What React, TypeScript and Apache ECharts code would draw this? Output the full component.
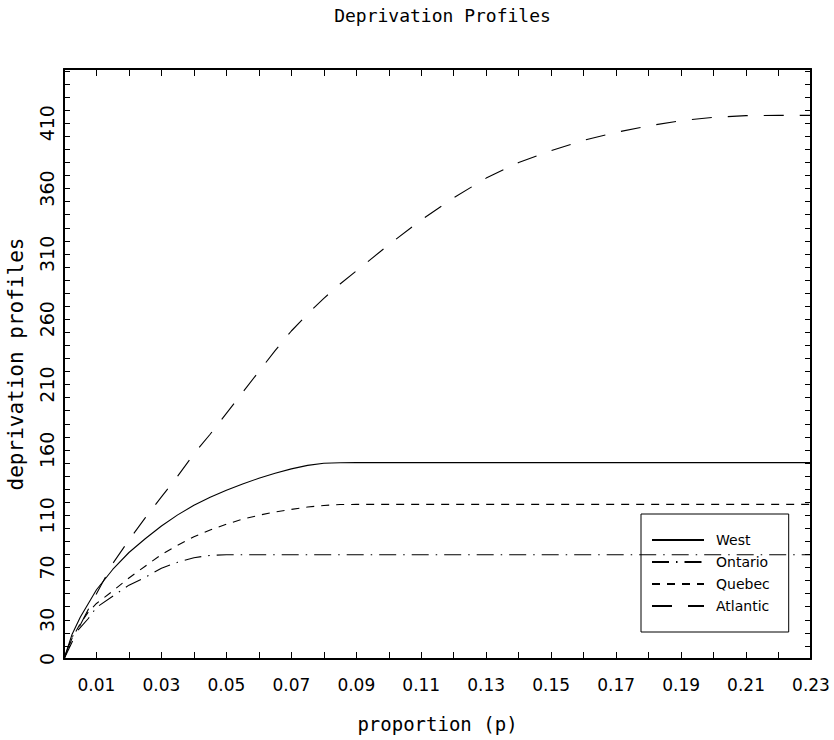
import React, { useEffect, useRef } from 'react';
import * as echarts from 'echarts';

// proportion grid (x values)
const proportions = [
  0, 0.0025, 0.005, 0.0075, 0.01, 0.015, 0.02, 0.025, 0.03, 0.035, 0.04, 0.045,
  0.05, 0.055, 0.06, 0.065, 0.07, 0.075, 0.08, 0.085, 0.09, 0.1, 0.11, 0.12,
  0.13, 0.14, 0.15, 0.16, 0.17, 0.18, 0.19, 0.2, 0.21, 0.22, 0.23,
];

const westValues = [
  0, 19, 32, 42.5, 53, 68.5, 81.5, 92, 101.8, 110.3, 117.6, 123.8,
  129.2, 134, 138.3, 142.2, 145.5, 148.2, 149.8, 150.2, 150.3, 150.3, 150.3, 150.3,
  150.3, 150.3, 150.3, 150.3, 150.3, 150.3, 150.3, 150.3, 150.3, 150.3, 150.3,
];

const ontarioValues = [
  0, 17, 24, 31, 39.5, 48, 56.5, 62.5, 69.5, 74, 77.5, 79.3,
  79.8, 79.8, 79.8, 79.8, 79.8, 79.8, 79.8, 79.8, 79.8, 79.8, 79.8, 79.8,
  79.8, 79.8, 79.8, 79.8, 79.8, 79.8, 79.8, 79.8, 79.8, 79.8, 79.8,
];

const quebecValues = [
  0, 16, 27, 36, 42.5, 52, 62, 71, 80, 87, 93.5, 98.7,
  103.2, 107, 110, 112.5, 114.5, 116.3, 117.5, 118.2, 118.3, 118.3, 118.3, 118.3,
  118.3, 118.3, 118.3, 118.3, 118.3, 118.3, 118.3, 118.3, 118.3, 118.3, 118.3,
];

const atlanticValues = [
  0, 13, 26, 38, 50, 73, 91, 108, 124, 140, 157, 172,
  188, 204, 220, 236, 251, 264, 276, 287, 297, 317, 336, 353,
  368, 380, 389, 397, 403, 408, 412, 414.5, 415.8, 416, 416,
];

const seriesNames = ['West', 'Ontario', 'Quebec', 'Atlantic'];
const seriesValues = [westValues, ontarioValues, quebecValues, atlanticValues];
const seriesDash: (string | number[])[] = ['solid', [17, 7, 1.5, 7], [8, 7], [20, 16]];

const yTickLabels = [0, 30, 70, 110, 160, 210, 260, 310, 360, 410];
const xTickLabels = ['0.01', '0.03', '0.05', '0.07', '0.09', '0.11', '0.13', '0.15', '0.17', '0.19', '0.21', '0.23'];

const SANS = 'DejaVu Sans';
const MONO = 'DejaVu Sans Mono';

export default function App() {
  const ref = useRef<HTMLDivElement>(null);

  useEffect(() => {
    if (!ref.current) return;
    const chart = echarts.init(ref.current, undefined, { renderer: 'svg' });

    const frameLine = { show: true, onZero: false, lineStyle: { color: '#000', width: 2 } };

    const option: any = {
      animation: false,
      backgroundColor: '#fff',
      title: {
        text: 'Deprivation Profiles',
        left: 437.5,
        top: 1,
        textAlign: 'center',
        textStyle: { fontFamily: MONO, fontSize: 18, fontWeight: 'normal', color: '#000' },
      },
      grid: { left: 64, right: 23, top: 69, bottom: 81, containLabel: false, outerBoundsMode: 'none' },
      legend: {
        orient: 'vertical',
        left: 641,
        top: 514,
        data: seriesNames,
        itemWidth: 52,
        itemHeight: 14,
        itemGap: 8,
        padding: [19, 19, 19, 10],
        borderColor: '#000',
        borderWidth: 1,
        itemStyle: { opacity: 0 },
        textStyle: { fontFamily: SANS, fontSize: 14, color: '#000', padding: [0, 0, 0, 7] },
      },
      xAxis: [
        {
          type: 'value',
          position: 'bottom',
          min: 0,
          max: 0.23,
          interval: 0.01,
          axisLine: frameLine,
          axisTick: { show: true, inside: true, length: 7, lineStyle: { color: '#000', width: 1 } },
          axisLabel: {
            show: true,
            margin: 17,
            fontFamily: SANS,
            fontSize: 17,
            color: '#000',
            formatter: (v: number) => {
              const s = (Math.round(v * 100) / 100).toFixed(2);
              return xTickLabels.indexOf(s) >= 0 ? s : '';
            },
          },
          splitLine: { show: false },
          name: 'proportion (p)',
          nameLocation: 'middle',
          nameGap: 55,
          nameTextStyle: { fontFamily: MONO, fontSize: 19, color: '#000' },
        },
        {
          type: 'value',
          position: 'top',
          min: 0,
          max: 0.23,
          interval: 0.01,
          axisLine: frameLine,
          axisTick: { show: true, inside: true, length: 7, lineStyle: { color: '#000', width: 1 } },
          axisLabel: { show: false },
          splitLine: { show: false },
        },
      ],
      yAxis: [
        {
          type: 'value',
          position: 'left',
          min: 0,
          max: 451.5,
          interval: 10,
          axisLine: frameLine,
          axisTick: { show: true, inside: true, length: 6, lineStyle: { color: '#000', width: 1 } },
          axisLabel: {
            show: true,
            rotate: 90,
            margin: 8,
            fontFamily: SANS,
            fontSize: 19,
            color: '#000',
            formatter: (v: number) => (yTickLabels.indexOf(Math.round(v)) >= 0 && Math.abs(v - Math.round(v)) < 1e-6 ? String(Math.round(v)) : ''),
          },
          splitLine: { show: false },
          name: 'deprivation profiles',
          nameLocation: 'middle',
          nameRotate: 90,
          nameGap: 38,
          nameTextStyle: { fontFamily: MONO, fontSize: 21, color: '#000' },
        },
        {
          type: 'value',
          position: 'right',
          min: 0,
          max: 451.5,
          interval: 10,
          axisLine: frameLine,
          axisTick: { show: true, inside: true, length: 6, lineStyle: { color: '#000', width: 1 } },
          axisLabel: { show: false },
          splitLine: { show: false },
        },
      ],
      series: seriesNames.map((name, i) => ({
        name,
        type: 'line',
        xAxisIndex: 0,
        yAxisIndex: 0,
        symbol: 'none',
        showSymbol: false,
        smooth: false,
        data: proportions.map((p, j) => [p, seriesValues[i][j]]),
        lineStyle: { color: '#000', width: 1.1, type: seriesDash[i] },
        itemStyle: { color: '#000' },
      })),
    };

    chart.setOption(option);
    return () => chart.dispose();
  }, []);

  return (
    <div
      ref={ref}
      style={{ position: 'fixed', left: 0, top: 0, width: 834, height: 740, background: '#fff' }}
    />
  );
}
